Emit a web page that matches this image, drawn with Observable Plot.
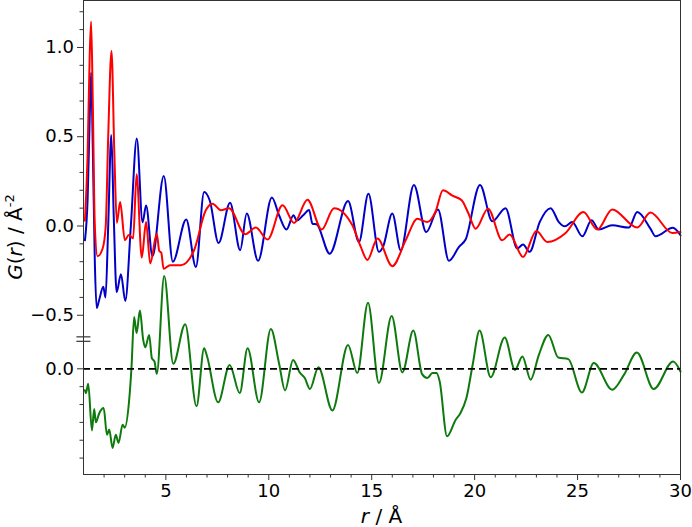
<!DOCTYPE html>
<html><head><meta charset="utf-8">
<script src="https://cdn.jsdelivr.net/npm/d3@7"></script>
<script src="https://cdn.jsdelivr.net/npm/@observablehq/plot@0.6"></script>
<style>body{margin:0;background:#fff} svg{display:block}</style>
</head><body><div id="chart"></div>
<script>
// Calculated G(r) (blue)
const rBlue = [1.07,1.2,1.3,1.37,1.45,1.55,1.64,1.76,1.96,2.07,2.2,2.35,2.47,2.61,2.82,3.03,3.3,3.59,3.87,4.04,4.35,4.9,5.34,5.99,6.46,6.86,7.14,7.56,8.12,8.61,8.93,9.48,10.15,10.5,10.86,11.2,11.36,11.67,11.96,12.12,12.32,12.96,13.85,14.38,14.84,15.35,15.55,16.0,16.41,17.05,17.65,18.22,18.75,19.24,19.56,20.26,20.86,21.5,22.07,22.35,22.67,23.16,23.69,24.09,24.38,24.74,25.23,25.68,26.03,26.68,27.49,27.9,28.54,28.79,29.63,30];
const gBlue = [-0.08,0.15,0.6,0.86,0.45,-0.2,-0.46,-0.415,-0.34,-0.40,0.0,0.51,0.05,-0.37,-0.27,-0.42,0.0,0.49,0.02,0.115,-0.17,0.28,-0.20,0.037,-0.23,0.19,0.14,-0.095,0.13,-0.135,0.07,-0.195,0.16,0.06,-0.02,0.06,0.03,0.06,0.09,0.013,0.01,-0.155,0.14,-0.09,0.18,-0.145,-0.117,0.07,-0.136,0.23,-0.034,0.093,-0.195,-0.117,-0.076,0.23,0.026,0.10,-0.126,-0.104,-0.145,0.022,0.10,0.022,-0.002,0.022,-0.058,0.032,-0.02,0.004,-0.009,0.078,-0.015,-0.058,-0.01,-0.052];
// Experimental G(r) (red)
const rRed = [1.07,1.2,1.3,1.37,1.45,1.55,1.68,1.93,2.08,2.2,2.36,2.5,2.62,2.78,3.01,3.2,3.41,3.58,3.83,4.04,4.24,4.56,4.68,4.78,4.89,5.2,5.73,6.37,6.94,7.27,7.67,8.07,8.85,9.37,9.94,10.67,11.23,11.88,12.57,13.17,14.06,14.47,14.79,15.28,16.0,16.65,17.22,17.7,18.1,18.46,18.92,19.37,19.7,20.05,20.65,21.34,21.7,22.35,23.0,23.53,24.42,25.28,25.96,26.68,27.9,28.54,29.6,30];
const gRed = [0.03,0.4,0.95,1.145,0.7,0.0,-0.17,-0.126,0.0,0.5,0.98,0.4,0.017,0.134,-0.08,-0.05,-0.07,0.29,-0.177,0.022,-0.21,-0.043,-0.14,-0.15,-0.24,-0.22,-0.22,-0.136,0.088,0.125,0.088,0.10,-0.046,-0.009,-0.076,0.116,0.017,0.147,-0.02,0.10,0.004,-0.117,-0.19,-0.07,-0.225,-0.08,0.04,0.022,0.08,0.2,0.17,0.144,0.07,-0.015,0.097,-0.08,-0.048,-0.173,-0.028,-0.09,-0.039,0.078,-0.02,0.093,-0.009,0.075,-0.039,-0.034];
// Difference curve (green), drawn with an offset
const rDiff = [1.07,1.12,1.23,1.41,1.52,1.6,1.76,1.98,2.14,2.25,2.41,2.57,2.7,2.9,3.0,3.22,3.33,3.46,3.58,3.74,3.9,4.0,4.19,4.32,4.45,4.56,4.92,5.36,5.94,6.49,6.86,7.0,7.54,8.1,8.59,8.97,9.53,10.1,10.5,10.79,11.18,11.5,11.75,12.0,12.41,13.09,13.85,14.3,14.82,15.35,15.97,16.49,17.02,17.45,17.7,17.95,18.15,18.3,18.66,19.08,19.3,19.6,19.9,20.24,20.78,21.46,21.96,22.32,22.72,23.12,23.58,24.06,24.55,25.21,25.79,26.68,27.25,27.88,28.7,29.64,30];
const gDiff = [-0.12,-0.136,-0.084,-0.345,-0.225,-0.30,-0.25,-0.22,-0.37,-0.34,-0.443,-0.37,-0.415,-0.313,-0.33,-0.173,0.004,0.29,0.2,0.326,0.162,0.12,0.19,0.06,0.04,-0.028,0.52,0.028,0.25,-0.21,0.115,0.07,-0.188,0.022,-0.136,0.115,-0.188,0.223,0.03,-0.121,0.05,-0.02,-0.052,-0.113,0.009,-0.233,0.134,-0.024,0.37,-0.08,0.296,-0.02,0.214,-0.03,-0.052,-0.024,-0.024,-0.07,-0.378,-0.285,-0.25,-0.164,0.02,0.214,-0.047,0.175,-0.006,0.069,-0.061,0.078,0.19,0.063,0.054,-0.132,0.032,-0.117,-0.034,0.091,-0.113,0.041,-0.015];
const diffOffset = -0.8;

// Ticks
const xMajorTicks = [5,10,15,20,25,30];
const xMinorTicks = [2,3,4,6,7,8,9,11,12,13,14,16,17,18,19,21,22,23,24,26,27,28,29];
const yMajorTicks = [1.0,0.5,0.0,-0.5];
const yMinorTicks = [1.2,1.1,0.9,0.8,0.7,0.6,0.4,0.3,0.2,0.1,-0.1,-0.2,-0.3,-0.4];
const diffMajorTicks = [0.0];
const diffMinorTicks = [-0.1,-0.2,-0.3,-0.4,-0.5];
const yBreakMarks = [-0.621,-0.646];

const rows = (xs, ys, off = 0) => xs.map((x, i) => ({x, y: ys[i] + off}));
const fmt = v => (v < 0 ? "\u2212" : "") + Math.abs(v).toFixed(1);
const majorLabel = new Map();
yMajorTicks.forEach(v => majorLabel.set(v, fmt(v)));
diffMajorTicks.forEach(v => majorLabel.set(+(v + diffOffset).toFixed(3), fmt(v)));
const yMajorAll = [...majorLabel.keys()];
const yMinorAll = [...yMinorTicks, ...diffMinorTicks.map(v => +(v + diffOffset).toFixed(3))];

const plot = Plot.plot({
  width: 692, height: 527,
  marginLeft: 83, marginRight: 12, marginTop: 0, marginBottom: 53,
  style: {fontFamily: "DejaVu Sans", fontSize: "18px", background: "white", color: "black"},
  x: {domain: [1, 30]},
  y: {domain: [-1.392, 1.263]},
  marks: [
    Plot.line(rows(rBlue, gBlue), {x: "x", y: "y", stroke: "#0000c8", strokeWidth: 2, curve: "monotone-x"}),
    Plot.line(rows(rRed, gRed), {x: "x", y: "y", stroke: "#ff0000", strokeWidth: 2, curve: "monotone-x"}),
    Plot.line(rows(rDiff, gDiff, diffOffset), {x: "x", y: "y", stroke: "#0e7a0e", strokeWidth: 2, curve: "monotone-x"}),
    Plot.ruleY([diffOffset], {stroke: "black", strokeWidth: 1.8, strokeDasharray: "7,4"}),
    Plot.axisX(xMajorTicks, {tickSize: 6, tickPadding: 4, fontSize: 18, label: null, stroke: "#333"}),
    Plot.axisX(xMinorTicks, {tickSize: 3.5, tickFormat: () => "", label: null, stroke: "#333"}),
    Plot.axisY(yMajorAll, {tickSize: 6, tickPadding: 3.5, fontSize: 18, tickFormat: v => majorLabel.get(v), label: null, stroke: "#333"}),
    Plot.axisY(yMinorAll, {tickSize: 3.5, tickFormat: () => "", label: null, stroke: "#333"}),
    Plot.frame({stroke: "#333"}),
    Plot.ruleY(yBreakMarks, {x1: 0.68, x2: 1.36, stroke: "#333", strokeWidth: 1.2})
  ]
});

const svg = d3.select(plot);
const xr = plot.scale("x").range;
const yr = plot.scale("y").range;
const xl = svg.append("text")
  .attr("x", (xr[0] + xr[1]) / 2).attr("y", 523)
  .attr("text-anchor", "middle").attr("font-size", 20).attr("fill", "black");
xl.append("tspan").attr("font-style", "italic").text("r");
xl.append("tspan").text(" / \u00C5");
const yl = svg.append("text")
  .attr("transform", `translate(22,${(yr[0] + yr[1]) / 2}) rotate(-90)`)
  .attr("text-anchor", "middle").attr("font-size", 20).attr("fill", "black");
yl.append("tspan").attr("font-style", "italic").text("G");
yl.append("tspan").text("(");
yl.append("tspan").attr("font-style", "italic").text("r");
yl.append("tspan").text(") / \u00C5");
yl.append("tspan").attr("font-size", 13).attr("dy", -8).text("-2");

document.getElementById("chart").appendChild(plot);
</script>
</body></html>
